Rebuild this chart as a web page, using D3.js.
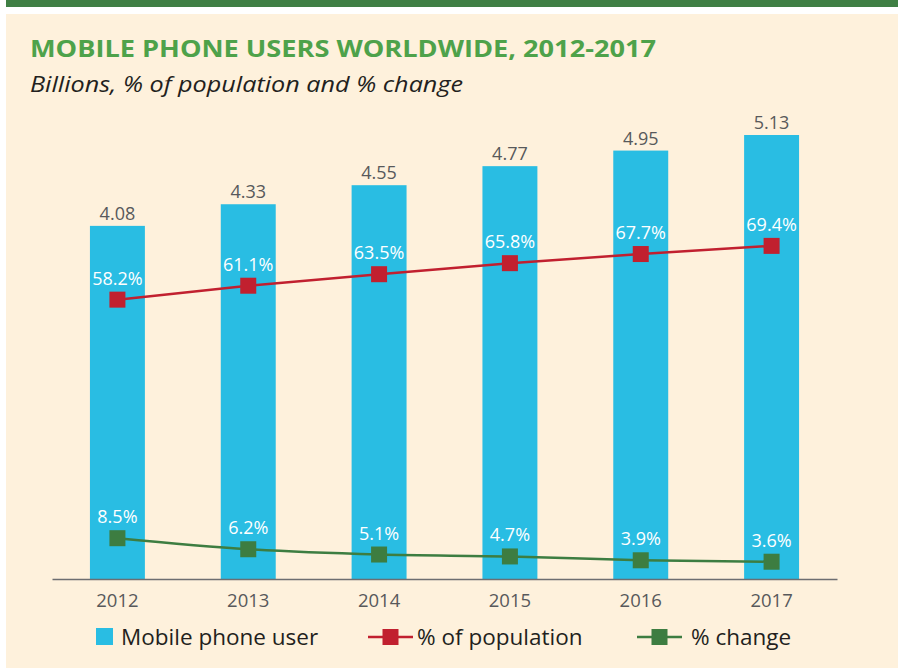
<!DOCTYPE html>
<html>
<head>
<meta charset="utf-8">
<script src="https://cdn.jsdelivr.net/npm/d3@7"></script>
<style>
  body { margin: 0; background: #ffffff; }
  text { font-family: "Open Sans", "Noto Sans", sans-serif; }
</style>
</head>
<body>
<script>
// data
var years = ["2012", "2013", "2014", "2015", "2016", "2017"];
var users = [4.08, 4.33, 4.55, 4.77, 4.95, 5.13];          // billions
var popShare = [58.2, 61.1, 63.5, 65.8, 67.7, 69.4];       // % of population
var pctChange = [8.5, 6.2, 5.1, 4.7, 3.9, 3.6];            // % change
var legendLabels = ["Mobile phone user", "% of population", "% change"];

var width = 898, height = 668;
var blue = "#29bde3", red = "#c1202f", green = "#3d7d41";
var grayText = "#58595b";

var svg = d3.select("body").append("svg")
    .attr("width", width)
    .attr("height", height);

// frame: green strip at top, cream panel
svg.append("rect").attr("x", 6).attr("y", 0).attr("width", width - 6).attr("height", 7).attr("fill", "#3f7f44");
svg.append("rect").attr("x", 6).attr("y", 14).attr("width", width - 6).attr("height", height - 14).attr("fill", "#fef1dc");

// titles
svg.append("text")
    .attr("x", 30).attr("y", 57)
    .attr("font-size", 24).attr("font-weight", "bold")
    .attr("fill", "#4ea24a")
    .attr("textLength", 626).attr("lengthAdjust", "spacingAndGlyphs")
    .text("MOBILE PHONE USERS WORLDWIDE, 2012-2017");

svg.append("text")
    .attr("x", 30).attr("y", 92)
    .attr("font-size", 22).attr("font-style", "italic")
    .attr("fill", "#231f20")
    .attr("textLength", 433).attr("lengthAdjust", "spacingAndGlyphs")
    .text("Billions, % of population and % change");

// scales
var baseY = 579;
var x = d3.scaleBand()
    .domain(years)
    .range([52, 837])
    .paddingInner(0.58)
    .paddingOuter(0.29);

var y = d3.scaleLinear().domain([0, 6]).range([baseY, baseY - 6 * 86.55]);
var yPct = d3.scaleLinear().domain([0, 100]).range([baseY, baseY - 480]);

var cx = function(i) { return x(years[i]) + x.bandwidth() / 2; };

// bars
svg.append("g").selectAll("rect")
    .data(users)
    .join("rect")
    .attr("x", function(d, i) { return x(years[i]); })
    .attr("y", function(d) { return y(d); })
    .attr("width", x.bandwidth())
    .attr("height", function(d) { return baseY - y(d); })
    .attr("fill", blue);

svg.append("g").selectAll("text")
    .data(users)
    .join("text")
    .attr("x", function(d, i) { return cx(i); })
    .attr("y", function(d) { return y(d) - 6; })
    .attr("text-anchor", "middle")
    .attr("font-size", 18)
    .attr("fill", grayText)
    .text(function(d) { return d.toFixed(2); });

// x axis
var xAxis = d3.axisBottom(x).tickSize(0).tickPadding(15);
var axisG = svg.append("g")
    .attr("transform", "translate(0," + baseY + ")")
    .call(xAxis);
axisG.select(".domain").attr("stroke", "#6d6e71").attr("stroke-width", 1.5);
axisG.selectAll("text")
    .attr("font-size", 18.5)
    .attr("fill", grayText)
    .attr("font-family", "'Open Sans', 'Noto Sans', sans-serif");

// lines with square markers
function drawSeries(values, color, curve) {
    var line = d3.line()
        .x(function(d, i) { return cx(i); })
        .y(function(d) { return yPct(d); })
        .curve(curve);

    svg.append("path")
        .datum(values)
        .attr("d", line)
        .attr("fill", "none")
        .attr("stroke", color)
        .attr("stroke-width", 2.5);

    svg.append("g").selectAll("rect")
        .data(values)
        .join("rect")
        .attr("x", function(d, i) { return cx(i) - 8; })
        .attr("y", function(d) { return yPct(d) - 8; })
        .attr("width", 16).attr("height", 16)
        .attr("fill", color);

    svg.append("g").selectAll("text")
        .data(values)
        .join("text")
        .attr("x", function(d, i) { return cx(i); })
        .attr("y", function(d) { return yPct(d) - 15; })
        .attr("text-anchor", "middle")
        .attr("font-size", 18)
        .attr("fill", "#ffffff")
        .text(function(d) { return d.toFixed(1) + "%"; });
}

drawSeries(popShare, red, d3.curveLinear);
drawSeries(pctChange, green, d3.curveMonotoneX);

// legend
var legY = 637;
var leg = svg.append("g");
leg.append("rect").attr("x", 96).attr("y", legY - 9).attr("width", 17).attr("height", 17).attr("fill", blue);
leg.append("text").attr("x", 121).attr("y", legY + 8).attr("font-size", 22.5).attr("fill", "#231f20").text(legendLabels[0]);

[[red, 368, 417, legendLabels[1]], [green, 637, 691, legendLabels[2]]].forEach(function(s) {
    leg.append("line").attr("x1", s[1]).attr("x2", s[1] + 45)
        .attr("y1", legY).attr("y2", legY)
        .attr("stroke", s[0]).attr("stroke-width", 2.5);
    leg.append("rect").attr("x", s[1] + 14.5).attr("y", legY - 8)
        .attr("width", 16).attr("height", 16).attr("fill", s[0]);
    leg.append("text").attr("x", s[2]).attr("y", legY + 8)
        .attr("font-size", 22.5).attr("fill", "#231f20").text(s[3]);
});
</script>
</body>
</html>
